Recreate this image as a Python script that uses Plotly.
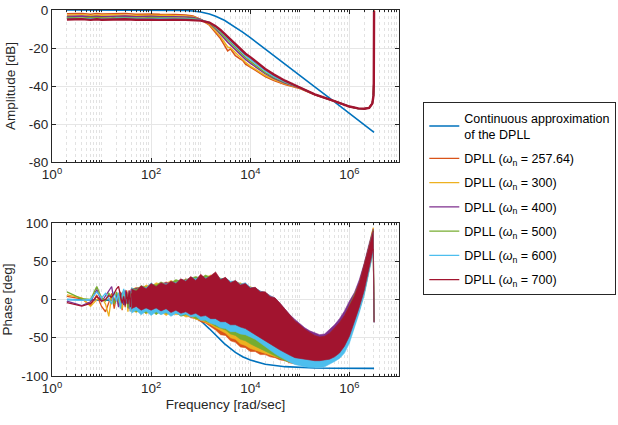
import plotly.graph_objects as go
from plotly.subplots import make_subplots

# ---------------- data ----------------
NAMES = ["257.64", "300", "400", "500", "600", "700"]
COLORS = ["#D95319", "#EDB120", "#7E2F8E", "#77AC30", "#4DBEEE", "#A2142F"]
BLUE = "#0072BD"

# continuous approximation
CONT_F = [2, 10, 50, 100, 200, 300, 500, 700, 1000, 1500, 2000, 3000, 5000, 7000,
          1e4, 2e4, 5e4, 1e5, 2e5, 5e5, 1e6, 2e6, 3.14e6]
CONT_MAG = [0, 0, 0, -0.01, -0.05, -0.11, -0.29, -0.55, -1.06, -2.1, -3.24, -5.43, -8.99,
            -11.63, -14.58, -20.48, -28.41, -34.43, -40.45, -48.4, -54.43, -60.45, -64.4]
CONT_PH = [-0.06, -0.3, -1.5, -3.0, -6.0, -9.0, -14.7, -20.2, -27.8, -38.3, -46.5, -57.7,
           -69.2, -74.8, -79.2, -84.6, -87.8, -88.9, -89.5, -89.8, -89.9, -89.95, -89.97]

# DPLL amplitude
MAG_F = [2, 4, 6, 8, 10, 15, 20, 30, 50, 70, 100, 150, 200, 300, 500, 700, 1000, 1500,
         2000, 2500, 3000, 3500, 4000, 5000, 6000, 7000, 8000, 10000, 15000, 20000, 30000,
         50000, 1e5, 2e5, 5e5, 1e6, 1.5e6, 2e6, 2.5e6, 2.9e6, 3.05e6, 3.1e6, 3.14e6]
MAG_257 = [-2.0, -1.8, -2.2, -1.9, -2.1, -2.0, -2.3, -1.9, -2.2, -2.0, -2.1, -2.3, -2.2, -2.4, -2.6, -3.2,
           -5.0, -8.0, -12.0, -15.0, -18.5, -21.5, -20.5, -24.0, -25.5, -26.5, -28.5, -30.0, -33.0,
           -35.0, -37.2, -39.2, -41.3, -44.6, -48.1, -50.9, -51.8, -52.0, -51.4, -49.0, -45.0, -38.0, 0.0]
MAG_300 = [-2.7, -2.5, -2.9, -2.6, -2.8, -2.7, -2.5, -2.9, -2.7, -2.6, -2.8, -2.9, -2.7, -3.0, -3.1, -3.6,
           -5.0, -7.5, -11.0, -14.0, -17.0, -19.5, -20.0, -22.5, -24.5, -26.0, -27.5, -29.5, -32.5,
           -34.5, -36.6, -38.9, -41.1, -44.5, -48.0, -50.8, -51.8, -52.0, -51.4, -49.0, -45.0, -38.0, -0.5]
MAG_400 = [-3.4, -3.2, -3.6, -3.3, -3.5, -3.4, -3.6, -3.2, -3.5, -3.4, -3.3, -3.6, -3.4, -3.5, -3.7, -4.0,
           -5.0, -7.0, -10.0, -12.5, -15.0, -17.0, -18.5, -21.0, -23.0, -24.5, -26.0, -28.0, -31.5,
           -33.5, -36.0, -38.5, -41.0, -44.5, -48.0, -50.8, -51.8, -52.0, -51.5, -49.1, -45.0, -38.0, -0.8]
MAG_500 = [-4.0, -4.2, -3.9, -4.1, -4.0, -4.2, -3.9, -4.1, -4.0, -4.2, -4.0, -4.1, -4.2, -4.1, -4.3, -4.5,
           -5.2, -6.8, -9.5, -12.0, -14.0, -16.0, -17.5, -20.0, -22.0, -23.5, -25.0, -27.0, -30.5,
           -33.0, -35.5, -38.0, -40.8, -44.4, -48.0, -50.8, -51.8, -52.0, -51.5, -49.1, -45.0, -38.0, -0.8]
MAG_600 = [-4.5, -4.6, -4.4, -4.6, -4.5, -4.7, -4.4, -4.6, -4.5, -4.6, -4.5, -4.7, -4.5, -4.6, -4.7, -4.9,
           -5.3, -6.5, -9.0, -11.0, -13.0, -15.0, -16.5, -19.0, -21.0, -22.5, -24.0, -26.0, -29.5,
           -32.0, -35.0, -37.8, -40.8, -44.4, -48.0, -50.8, -51.8, -52.0, -51.5, -49.1, -45.0, -38.0, -0.8]
MAG_700 = [-5.0, -4.8, -5.2, -4.9, -5.1, -5.0, -5.2, -4.9, -5.1, -5.0, -5.1, -5.2, -5.0, -5.1, -5.2, -5.3,
           -5.6, -6.6, -8.5, -10.5, -12.5, -14.0, -15.5, -18.0, -20.0, -21.8, -23.0, -24.8, -28.5,
           -31.0, -34.0, -37.2, -40.8, -44.4, -48.0, -50.8, -51.8, -52.0, -51.5, -49.2, -45.2, -38.5, -0.5]

# DPLL phase, low frequencies (individual samples)
PH_LOW_F = [2, 4, 6, 8, 10, 12, 14, 16, 18, 20, 22, 24, 26, 28, 30, 32, 34, 36, 38, 40]
PH_LOW_257 = [4, 1, -8, 6, -9, -16, -4, 8, -12, 5, -2, 10, -14, 3, -10, 12, -6, 8, -15, 2]
PH_LOW_300 = [6, 2, -9, 0, 3, -6, -22, 5, -3, 9, -8, 4, -12, 11, -5, 7, -16, 3, 9, -8]
PH_LOW_400 = [-2, -8, -3, 13, -3, 5, 12, 17, -4, 6, -10, 3, 9, -7, 12, -5, 4, -12, 8, 14]
PH_LOW_500 = [10, 1, 0, 17, 2, -2, 8, 3, -6, 10, 1, -9, 6, 12, -4, 8, -11, 5, -2, 10]
PH_LOW_600 = [0, -1, 0, 10, 2, 8, 1, -6, 10, -2, 9, -12, 4, 14, -8, 6, -3, 11, -16, 5]
PH_LOW_700 = [-4, -8.5, -5, 4, -2, 0, 5, 3, 8, 14, 17, 6, -5, 4, -8, 10, -6, 12, -10, 8]

# DPLL phase, dense part: upper / lower envelope of the oscillation
PH_F = [40, 50, 63, 79, 100, 126, 158, 200, 251, 316, 398, 501, 631, 794, 1000, 1259, 1585,
        1995, 2512, 3162, 3981, 5012, 6310, 7943, 10000, 12589, 15849, 19953, 25119, 31623,
        39811, 50119, 63096, 79433, 100000, 125893, 158489, 199526, 251189, 316228, 398107,
        501187, 630957, 794328, 1000000, 1258925, 1584893, 1995262, 2511886, 2818383,
        3019952, 3141593]
PH_UP_257 = [12, 14, 15, 17, 18, 20, 19, 23, 21, 25, 23, 27, 25, 28, 29, 31, 27, 30, 25, 27, 21, 23,
             18, 19, 14, 13, 9, 7, 3, -1, -8, -16, -23, -30, -36, -41, -46, -49, -51, -50, -46, -40,
             -33, -24, -10, 3, 20, 44, 70, 86, 93, -26]
PH_LO_257 = [-16, -12, -17, -14, -18, -15, -19, -16, -20, -18, -21, -20, -24, -25, -29, -31, -36, -40,
             -46, -47, -54, -56, -62, -63, -68, -68, -72, -72, -75, -76, -79, -80, -83, -84, -85, -85,
             -86, -86, -86, -85, -82, -78, -73, -65, -52, -34, -13, 9, 39, 55, 65, -29]
PH_UP_300 = [13, 16, 14, 19, 17, 22, 20, 21, 25, 22, 26, 24, 28, 27, 30, 29, 32, 28, 28, 26, 24, 21,
             22, 18, 17, 14, 11, 8, 4, 0, -7, -15, -22, -29, -35, -40, -45, -48, -50, -49, -45, -39,
             -32, -23, -9, 4, 21, 45, 71, 87, 94, -25]
PH_LO_300 = [-14, -17, -13, -19, -15, -18, -16, -21, -17, -20, -19, -23, -22, -26, -27, -30, -33, -37,
             -41, -44, -50, -52, -58, -60, -64, -66, -68, -71, -73, -75, -77, -79, -82, -84, -85, -86,
             -87, -87, -87, -86, -83, -79, -74, -66, -53, -35, -14, 8, 38, 54, 64, -29]
PH_UP_400 = [13, 15, 16, 14, 20, 18, 21, 22, 21, 24, 26, 23, 28, 27, 29, 30, 28, 32, 26, 28, 22, 24,
             20, 20, 15, 15, 11, 9, 5, 2, -5, -13, -20, -26, -32, -37, -41, -44, -46, -45, -39, -33,
             -25, -15, -2, 9, 26, 48, 74, 86, 92, -26]
PH_LO_400 = [-13, -10, -15, -12, -16, -13, -17, -14, -18, -16, -20, -18, -21, -21, -24, -24, -27, -29,
             -32, -33, -37, -38, -41, -43, -47, -50, -54, -58, -62, -66, -70, -73, -76, -78, -80, -81,
             -82, -82, -82, -81, -79, -75, -69, -60, -46, -28, -8, 14, 43, 58, 67, -29]
PH_UP_500 = [15, 13, 18, 16, 20, 19, 23, 20, 22, 26, 24, 26, 27, 30, 28, 32, 29, 31, 27, 28, 23, 24,
             20, 20, 15, 15, 10, 9, 4, 1, -7, -15, -22, -29, -35, -40, -45, -48, -50, -49, -45, -38,
             -31, -22, -8, 5, 21, 45, 71, 85, 91, -27]
PH_LO_500 = [-12, -16, -15, -18, -13, -20, -15, -18, -19, -16, -22, -20, -21, -25, -26, -28, -31, -35,
             -38, -40, -45, -47, -52, -54, -58, -61, -64, -68, -71, -74, -77, -80, -82, -83, -84, -85,
             -86, -86, -86, -85, -82, -78, -73, -65, -52, -34, -13, 9, 39, 55, 64, -28]
PH_UP_600 = [16, 10, 17, 15, 22, 16, 21, 20, 23, 22, 26, 25, 29, 27, 31, 28, 30, 33, 27, 28, 24, 24,
             20, 22, 16, 15, 11, 9, 5, 1, -6, -14, -21, -29, -35, -41, -45, -49, -51, -50, -47, -41,
             -34, -26, -12, 1, 18, 42, 68, 82, 88, -27]
PH_LO_600 = [-18, -14, -20, -15, -21, -16, -20, -17, -22, -18, -21, -19, -23, -22, -27, -27, -31, -33,
             -37, -38, -42, -42, -45, -46, -49, -52, -57, -61, -66, -71, -75, -79, -82, -85, -87, -88,
             -89, -89, -89, -88, -85, -81, -77, -70, -57, -38, -17, 6, 36, 52, 62, -30]
PH_UP_700 = [14, 11, 18, 14, 21, 17, 22, 19, 24, 21, 27, 24, 30, 25, 33, 27, 31, 36, 26, 29, 22, 25,
             19, 21, 15, 16, 10, 10, 4, 2, -5, -13, -20, -28, -33, -39, -43, -47, -49, -48, -44, -37,
             -30, -21, -7, 5, 22, 46, 72, 85, 90, -27]
PH_LO_700 = [-12, -9, -14, -11, -14, -11, -15, -12, -17, -14, -18, -16, -20, -18, -22, -21, -25, -25,
             -29, -29, -33, -33, -36, -38, -42, -45, -50, -53, -58, -62, -66, -70, -73, -76, -77, -78,
             -79, -80, -80, -79, -78, -75, -70, -61, -48, -30, -10, 12, 42, 57, 66, -30]

MAGS = [MAG_257, MAG_300, MAG_400, MAG_500, MAG_600, MAG_700]
PH_LOWS = [PH_LOW_257, PH_LOW_300, PH_LOW_400, PH_LOW_500, PH_LOW_600, PH_LOW_700]
PH_UPS = [PH_UP_257, PH_UP_300, PH_UP_400, PH_UP_500, PH_UP_600, PH_UP_700]
PH_LOS = [PH_LO_257, PH_LO_300, PH_LO_400, PH_LO_500, PH_LO_600, PH_LO_700]

X_TICKS = [1, 100, 1e4, 1e6]
X_TICKTEXT = ["10<sup>0</sup>", "10<sup>2</sup>", "10<sup>4</sup>", "10<sup>6</sup>"]
MAG_TICKS = [-80, -60, -40, -20, 0]
PH_TICKS = [-100, -50, 0, 50, 100]

# ---------------- figure ----------------
fig = make_subplots(rows=2, cols=1, vertical_spacing=0.1)

FONT = "Liberation Sans, Arial, sans-serif"
INK = "#262626"

fig.add_trace(go.Scatter(x=CONT_F, y=CONT_MAG, mode="lines", line=dict(color=BLUE, width=1.6),
                         name="Continuous approximation<br>of the DPLL", legendgroup="c"),
              row=1, col=1)
fig.add_trace(go.Scatter(x=CONT_F, y=CONT_PH, mode="lines", line=dict(color=BLUE, width=1.6),
                         showlegend=False), row=2, col=1)

for i, (nm, col) in enumerate(zip(NAMES, COLORS)):
    w = 2.4 if i == 5 else 1.5
    fig.add_trace(go.Scatter(x=MAG_F, y=MAGS[i], mode="lines", line=dict(color=col, width=w),
                             showlegend=False), row=1, col=1)
    fig.add_trace(go.Scatter(x=PH_F + PH_F[::-1], y=PH_UPS[i] + PH_LOS[i][::-1], mode="lines",
                             fill="toself", fillcolor=col, line=dict(color=col, width=0.6),
                             showlegend=False), row=2, col=1)
    fig.add_trace(go.Scatter(x=PH_LOW_F, y=PH_LOWS[i], mode="lines", line=dict(color=col, width=1.3),
                             name="DPLL (<i>ω</i><sub>n</sub> = " + nm + ")", legendgroup="d" + str(i)),
                  row=2, col=1)

minor_vals = [k * 10 ** n for n in range(0, 7) for k in range(2, 10)] + [10, 1e3, 1e5]

for r in (1, 2):
    fig.update_xaxes(type="log", range=[0, 7], tickvals=X_TICKS, ticktext=X_TICKTEXT,
                     showgrid=True, gridcolor="#e6e6e6", gridwidth=1,
                     minor=dict(tickvals=minor_vals, showgrid=True, gridcolor="#e2e2e2",
                                griddash="dot", ticks="inside", ticklen=2, tickcolor=INK),
                     ticks="inside", ticklen=4, tickcolor=INK, showline=True, linecolor=INK,
                     linewidth=1, mirror="allticks", zeroline=False, automargin=False,
                     tickfont=dict(size=13.5, color=INK, family=FONT), row=r, col=1)

fig.update_yaxes(range=[-80, 0], tickvals=MAG_TICKS, ticktext=[str(v) for v in MAG_TICKS],
                 title=dict(text="Amplitude [dB]", font=dict(size=13.5, color=INK, family=FONT), standoff=10),
                 row=1, col=1)
fig.update_yaxes(range=[-100, 100], tickvals=PH_TICKS, ticktext=[str(v) for v in PH_TICKS],
                 title=dict(text="Phase [deg]", font=dict(size=13.5, color=INK, family=FONT), standoff=10),
                 row=2, col=1)
fig.update_yaxes(showgrid=True, gridcolor="#e6e6e6", gridwidth=1, ticks="inside", ticklen=4,
                 tickcolor=INK, showline=True, linecolor=INK, linewidth=1, mirror="allticks",
                 zeroline=False, automargin=False, tickfont=dict(size=13.5, color=INK, family=FONT))
fig.update_xaxes(title=dict(text="Frequency [rad/sec]", font=dict(size=13.5, color=INK, family=FONT),
                            standoff=4), row=2, col=1)

fig.update_layout(
    xaxis=dict(domain=[0, 1]), yaxis=dict(domain=[0.5847, 1.0]),
    xaxis2=dict(domain=[0, 1]), yaxis2=dict(domain=[0.0, 0.418]),
    width=618, height=425,
    margin=dict(l=52, r=219, t=10, b=49, autoexpand=False),
    paper_bgcolor="white", plot_bgcolor="white",
    font=dict(family=FONT, color=INK, size=13),
    legend=dict(x=1.07, xanchor="left", y=0.748, yanchor="top",
                bordercolor=INK, borderwidth=1, bgcolor="white",
                font=dict(size=12.5, color="#000000", family=FONT),
                itemwidth=30, tracegroupgap=5, traceorder="grouped"),
    showlegend=True,
)

# remove the page's default 8px body margin so the 618x425 figure fills the window
fig.write_html("out.html", config={"displayModeBar": False},
               post_script="document.body.style.margin='0';")
